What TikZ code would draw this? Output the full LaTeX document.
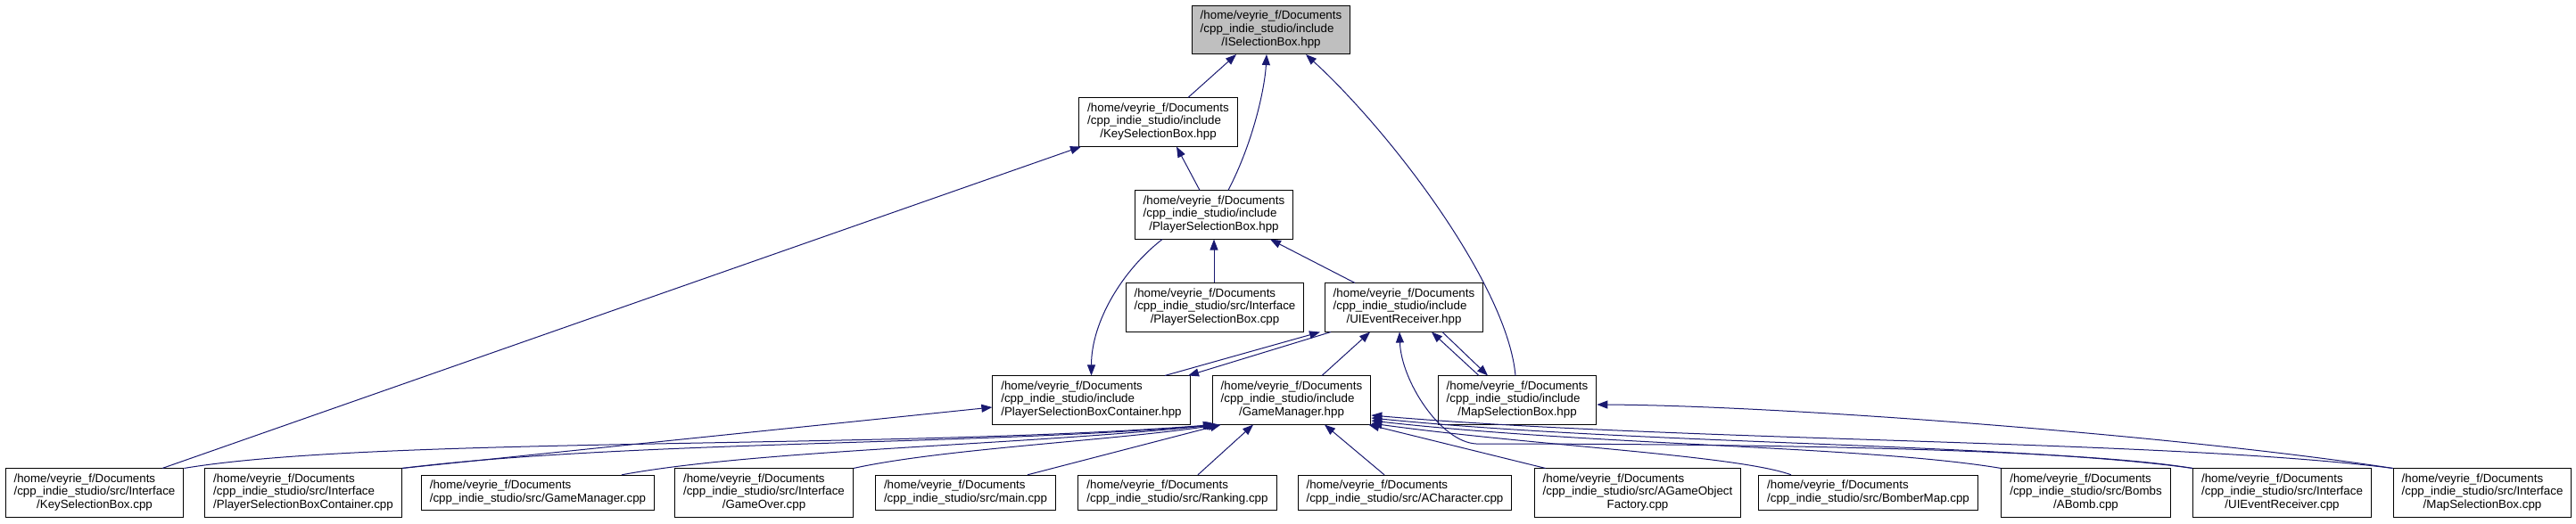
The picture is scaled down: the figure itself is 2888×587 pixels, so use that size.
\documentclass[tikz,border=0pt]{standalone}
\usepackage{fontspec}
\setmainfont{Liberation Sans}
\usetikzlibrary{arrows.meta}
\definecolor{edgeblue}{RGB}{25,25,112}
\definecolor{isgray}{RGB}{191,191,191}
\newcommand{\dlthree}[3]{\begin{tabular}{@{}l@{}}#1\\#2\\\multicolumn{1}{@{}c@{}}{#3}\end{tabular}}
\newcommand{\dltwo}[2]{\begin{tabular}{@{}l@{}}#1\\#2\end{tabular}}
\newcommand{\homedir}{/home/veyrie\_f/Documents}
\newcommand{\incdir}{/cpp\_indie\_studio/include}
\newcommand{\ifdir}{/cpp\_indie\_studio/src/Interface}
\begin{document}
\begin{tikzpicture}[x=1pt,y=-1pt,
  filebox/.style={draw=black, line width=1pt, fill=white, inner xsep=9.5pt, inner ysep=5pt,
    font=\fontsize{13.33}{14.7}\selectfont, anchor=center},
  dep/.style={draw=edgeblue, line width=1pt, -{Triangle[length=12pt,width=9pt]}}]
\useasboundingbox (0,0) rectangle (2888,587);
% rank 0-2
\node[filebox, fill=isgray] (ISel) at (1425,33.5) {\dlthree{\homedir}{\incdir}{/ISelectionBox.hpp}};
\node[filebox] (KSBh) at (1298.5,137) {\dlthree{\homedir}{\incdir}{/KeySelectionBox.hpp}};
\node[filebox] (PSBh) at (1361,241) {\dlthree{\homedir}{\incdir}{/PlayerSelectionBox.hpp}};
% rank 3
\node[filebox] (PSBcpp) at (1362,345) {\dlthree{\homedir}{\ifdir}{/PlayerSelectionBox.cpp}};
\node[filebox] (UIERh) at (1574,345) {\dlthree{\homedir}{\incdir}{/UIEventReceiver.hpp}};
% rank 4
\node[filebox] (PSBCh) at (1223.5,449) {\dlthree{\homedir}{\incdir}{/PlayerSelectionBoxContainer.hpp}};
\node[filebox] (GMh) at (1448,449) {\dlthree{\homedir}{\incdir}{/GameManager.hpp}};
\node[filebox] (MSBh) at (1701,449) {\dlthree{\homedir}{\incdir}{/MapSelectionBox.hpp}};
% rank 5
\node[filebox] (KSBcpp) at (106,553) {\dlthree{\homedir}{\ifdir}{/KeySelectionBox.cpp}};
\node[filebox] (PSBCcpp) at (340,553) {\dlthree{\homedir}{\ifdir}{/PlayerSelectionBoxContainer.cpp}};
\node[filebox] (GMcpp) at (603,553) {\dltwo{\homedir}{/cpp\_indie\_studio/src/GameManager.cpp}};
\node[filebox] (GOver) at (856.5,553) {\dlthree{\homedir}{\ifdir}{/GameOver.cpp}};
\node[filebox] (mainc) at (1082.5,553) {\dltwo{\homedir}{/cpp\_indie\_studio/src/main.cpp}};
\node[filebox] (Rank) at (1320,553) {\dltwo{\homedir}{/cpp\_indie\_studio/src/Ranking.cpp}};
\node[filebox] (AChar) at (1575,553) {\dltwo{\homedir}{/cpp\_indie\_studio/src/ACharacter.cpp}};
\node[filebox] (AGOF) at (1836,553) {\dlthree{\homedir}{/cpp\_indie\_studio/src/AGameObject}{Factory.cpp}};
\node[filebox] (Bomber) at (2094.5,553) {\dltwo{\homedir}{/cpp\_indie\_studio/src/BomberMap.cpp}};
\node[filebox] (ABomb) at (2338.5,553) {\dlthree{\homedir}{/cpp\_indie\_studio/src/Bombs}{/ABomb.cpp}};
\node[filebox] (UIERcpp) at (2558.5,553) {\dlthree{\homedir}{\ifdir}{/UIEventReceiver.cpp}};
\node[filebox] (MSBcpp) at (2783,553) {\dlthree{\homedir}{\ifdir}{/MapSelectionBox.cpp}};
\coordinate (uibend) at (1655,498);
% edges to ISelectionBox
\draw[dep] ([xshift=33.5pt]KSBh.north) -- ([xshift=-39pt]ISel.south);
\draw[dep] ([xshift=16pt]PSBh.north) .. controls +(28,-54) and +(-2,38) .. ([xshift=-5pt]ISel.south);
\draw[dep] ([xshift=-2pt]MSBh.north) .. controls +(-9,-101) and +(96,88) .. ([xshift=39pt]ISel.south);
% KeySelectionBox.hpp
\draw[dep] ([xshift=76pt]KSBcpp.north) -- ([xshift=-86.5pt]KSBh.south);
\draw[dep] ([xshift=-16pt]PSBh.north) -- ([xshift=20.5pt]KSBh.south);
% PlayerSelectionBox.hpp
\draw[dep] ([xshift=-1pt]PSBcpp.north) -- (PSBh.south);
\draw[dep] ([xshift=-55pt]UIERh.north) -- ([xshift=63pt]PSBh.south);
\draw[dep] ([xshift=-58pt]PSBh.south) .. controls +(-45,35) and +(0,-60) .. (PSBCh.north);
% UIEventReceiver.hpp
\draw[dep] ([xshift=82.5pt]PSBCh.north) -- ([xshift=-94pt]UIERh.south);
\draw[dep] ([xshift=-82pt]UIERh.south) -- ([xshift=108.5pt]PSBCh.north);
\draw[dep] ([xshift=34pt]GMh.north) -- ([xshift=-38pt]UIERh.south);
\draw[dep] (UIERcpp.north west) .. controls +(-150,-25) and +(200,0) .. (uibend)
  .. controls +(-40,-2) and +(2,55) .. ([xshift=-5pt]UIERh.south);
\draw[dep] ([xshift=-43pt]MSBh.north) -- ([xshift=31pt]UIERh.south);
\draw[dep] ([xshift=43pt]UIERh.south) -- ([xshift=-33pt]MSBh.north);
% MapSelectionBox.hpp
\draw[dep] (MSBcpp.north west) .. controls +(-233,-36) and +(210,1) .. ([yshift=-5pt]MSBh.east);
% PlayerSelectionBoxContainer.hpp
\draw[dep] (PSBCcpp.north east) -- ([yshift=-8pt]PSBCh.west);
% GameManager.hpp
\draw[dep] (KSBcpp.north east) .. controls +(215,-36) and +(-360,28) .. ([xshift=2pt]GMh.south west);
\draw[dep] (PSBCcpp.north east) .. controls +(250,-31) and +(-260,23) .. ([xshift=4pt]GMh.south west);
\draw[dep] ([xshift=94pt]GMcpp.north) .. controls +(150,-28) and +(-220,23) .. ([xshift=6pt]GMh.south west);
\draw[dep] (GOver.north east) .. controls +(100,-22) and +(-120,18) .. ([xshift=8pt]GMh.south west);
\draw[dep] ([xshift=69.5pt]mainc.north) -- ([xshift=10pt]GMh.south west);
\draw[dep] ([xshift=23pt]Rank.north) -- ([xshift=-43pt]GMh.south);
\draw[dep] ([xshift=-23pt]AChar.north) -- ([xshift=37pt]GMh.south);
\draw[dep] ([xshift=13pt]AGOF.north west) -- ([xshift=-3pt]GMh.south east);
\draw[dep] ([xshift=-86.5pt]Bomber.north) .. controls +(-60,-22) and +(180,25) .. ([yshift=-26pt]GMh.east);
\draw[dep] (ABomb.north west) .. controls +(-150,-25) and +(250,28) .. ([yshift=-23pt]GMh.east);
\draw[dep] (UIERcpp.north west) .. controls +(-200,-28) and +(300,30) .. ([yshift=-20pt]GMh.east);
\draw[dep] (MSBcpp.north west) .. controls +(-250,-32) and +(350,30) .. ([yshift=-17pt]GMh.east);
\end{tikzpicture}
\end{document}
